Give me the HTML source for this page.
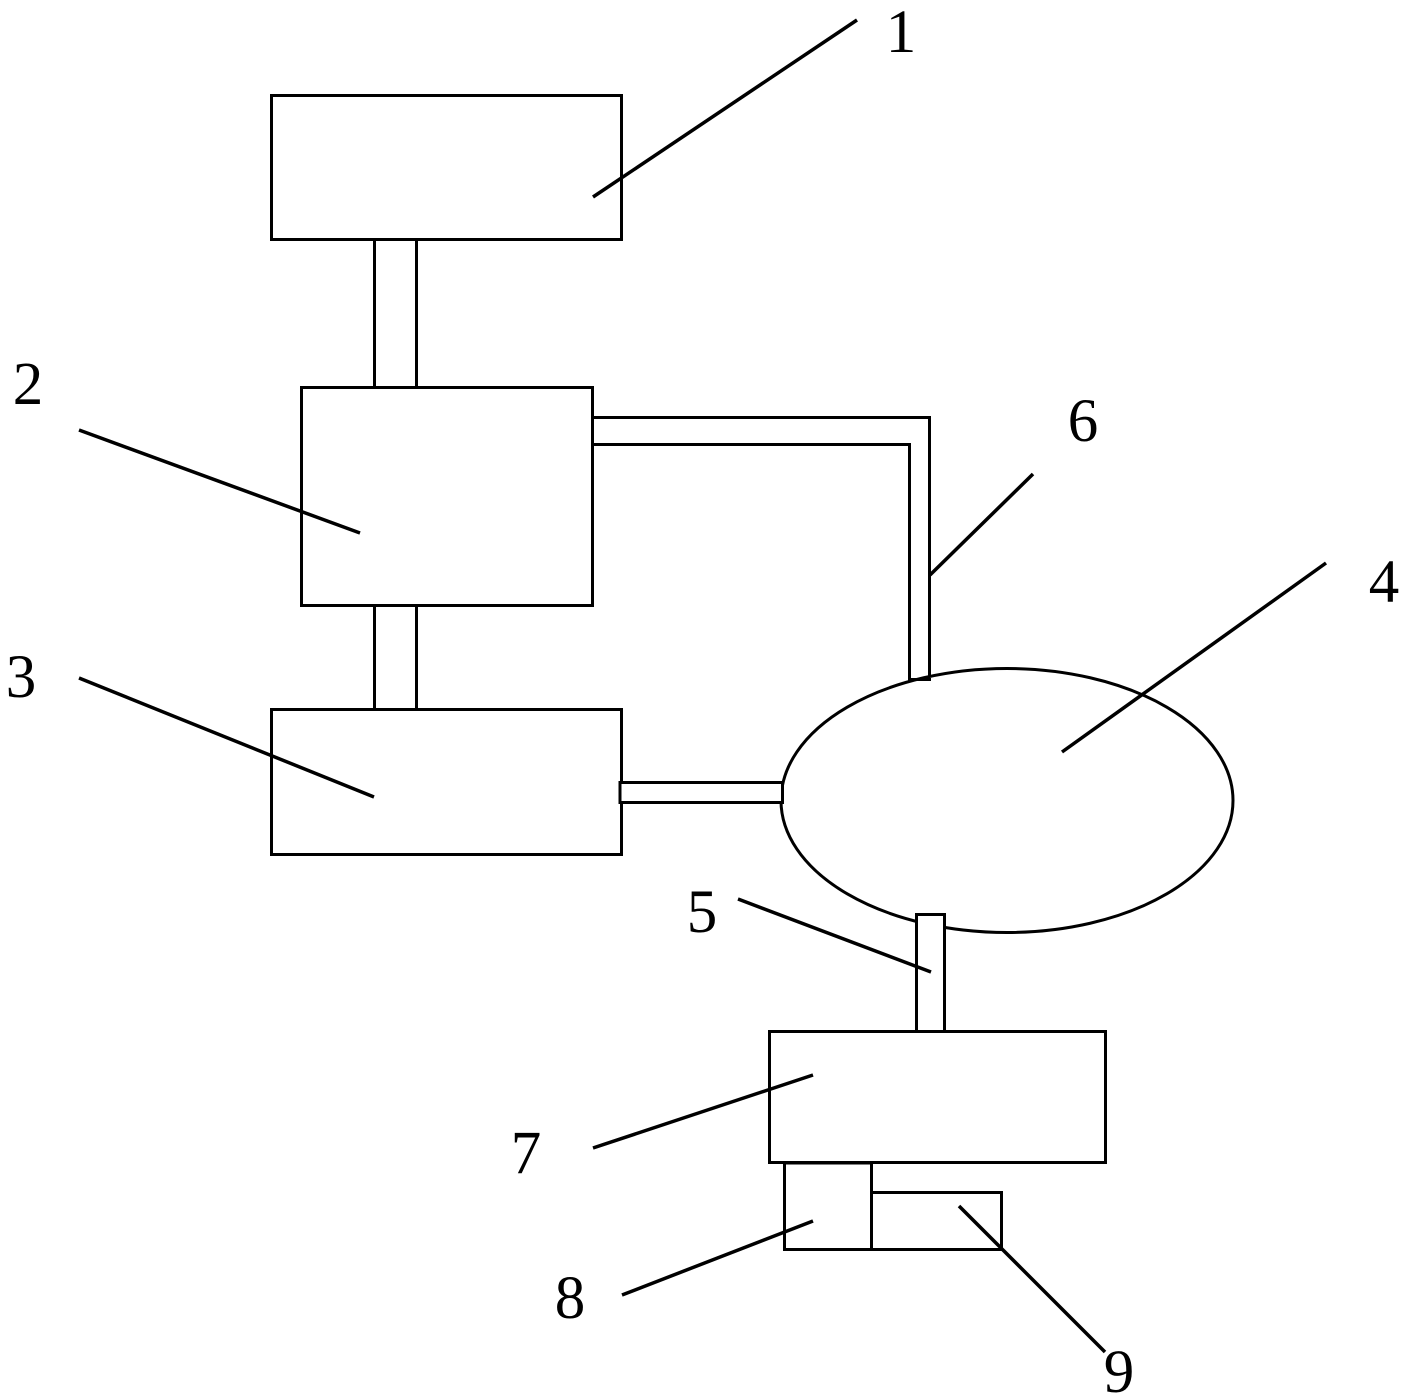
<!DOCTYPE html>
<html>
<head>
<meta charset="utf-8">
<style>
  html, body { margin: 0; padding: 0; background: #fff; }
  svg { display: block; }
  text { font-family: "Liberation Serif", "DejaVu Serif", serif; font-size: 61px; fill: #000; }
</style>
</head>
<body>
<svg width="1406" height="1397" viewBox="0 0 1406 1397" xmlns="http://www.w3.org/2000/svg">
  <rect x="0" y="0" width="1406" height="1397" fill="#fff"/>
  <g fill="none" stroke="#000" stroke-width="3" stroke-linecap="butt">
    <!-- Box 1 -->
    <rect x="271.5" y="95.5" width="350" height="144"/>
    <!-- pipe 1-2 -->
    <line x1="374.5" y1="240" x2="374.5" y2="387"/>
    <line x1="416.5" y1="240" x2="416.5" y2="387"/>
    <!-- Box 2 -->
    <rect x="301.5" y="387.5" width="291" height="218"/>
    <!-- pipe 2-3 -->
    <line x1="374.5" y1="606" x2="374.5" y2="709"/>
    <line x1="416.5" y1="606" x2="416.5" y2="709"/>
    <!-- Box 3 -->
    <rect x="271.5" y="709.5" width="350" height="145"/>
    <!-- pipe 2 -> 4 (6) -->
    <polyline points="593,417.5 929.5,417.5 929.5,679.5"/>
    <polyline points="593,444.5 909.5,444.5 909.5,679.5"/>
  </g>
  <!-- Ellipse 4 -->
  <ellipse cx="1007" cy="800.5" rx="226" ry="132" fill="#fff" stroke="#000" stroke-width="3"/>
  <g fill="#fff" stroke="#000" stroke-width="3">
    <!-- pipe 6 bottom -->
    <line x1="908" y1="679.5" x2="931" y2="679.5"/>
    <!-- pipe 3-4 -->
    <rect x="620" y="782.5" width="162.5" height="20"/>
    <!-- pipe 5 -->
    <rect x="916.5" y="914.5" width="28" height="117"/>
    <!-- Box 7 -->
    <rect x="769.5" y="1031.5" width="336" height="131"/>
    <!-- Box 8 -->
    <rect x="784.5" y="1163" width="87" height="86.5"/>
    <!-- Box 9 -->
    <rect x="871.5" y="1192.5" width="130" height="57"/>
  </g>
  <!-- leader lines -->
  <g stroke="#000" stroke-width="3.5" stroke-linecap="butt">
    <line x1="593" y1="197" x2="857" y2="20"/>
    <line x1="79" y1="430" x2="360" y2="533"/>
    <line x1="79" y1="678" x2="374" y2="797"/>
    <line x1="930" y1="575" x2="1033" y2="474"/>
    <line x1="1062" y1="752" x2="1326" y2="563"/>
    <line x1="738" y1="899" x2="931" y2="972"/>
    <line x1="593" y1="1148" x2="813" y2="1075"/>
    <line x1="622" y1="1295" x2="813" y2="1221"/>
    <line x1="959" y1="1206" x2="1105" y2="1352"/>
  </g>
  <!-- labels -->
  <g text-anchor="middle">
    <text x="901" y="52">1</text>
    <text x="28" y="404">2</text>
    <text x="21" y="697">3</text>
    <text x="1384" y="602">4</text>
    <text x="702" y="932">5</text>
    <text x="1083" y="441">6</text>
    <text x="526" y="1173">7</text>
    <text x="570" y="1318">8</text>
    <text x="1119" y="1392">9</text>
  </g>
</svg>
</body>
</html>
